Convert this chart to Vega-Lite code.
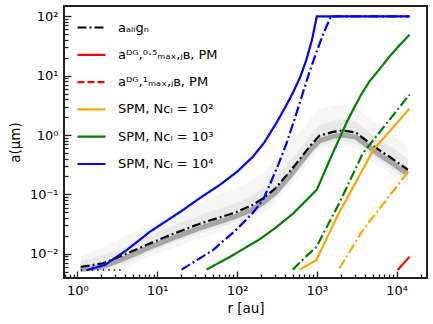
{
  "$schema": "https://vega.github.io/schema/vega-lite/v6.json",
  "width": 363,
  "height": 272,
  "autosize": "none",
  "padding": {"left": 64, "top": 6, "right": 6, "bottom": 46},
  "background": "white",
  "config": {
    "font": "DejaVu Sans",
    "view": {"stroke": "#222222", "strokeWidth": 2},
    "legend": {
      "orient": "none",
      "legendX": 12,
      "legendY": 6,
      "symbolType": "stroke",
      "symbolSize": 784,
      "symbolStrokeWidth": 2.2,
      "labelFont": "DejaVu Sans",
      "labelFontSize": 13,
      "labelColor": "#000000",
      "labelOffset": 11,
      "labelLimit": 300,
      "rowPadding": 4.3,
      "padding": 0,
      "title": null
    }
  },
  "datasets": {
    "curves": [
      {"series": "a_align", "r": 1.1, "a": 0.006},
      {"series": "a_align", "r": 2.1, "a": 0.0069},
      {"series": "a_align", "r": 4, "a": 0.0098},
      {"series": "a_align", "r": 8, "a": 0.0148},
      {"series": "a_align", "r": 15, "a": 0.021},
      {"series": "a_align", "r": 34, "a": 0.032},
      {"series": "a_align", "r": 89, "a": 0.048},
      {"series": "a_align", "r": 150, "a": 0.064},
      {"series": "a_align", "r": 211, "a": 0.085},
      {"series": "a_align", "r": 300, "a": 0.125},
      {"series": "a_align", "r": 456, "a": 0.24},
      {"series": "a_align", "r": 600, "a": 0.38},
      {"series": "a_align", "r": 812, "a": 0.64},
      {"series": "a_align", "r": 1075, "a": 0.97},
      {"series": "a_align", "r": 1600, "a": 1.13},
      {"series": "a_align", "r": 2113, "a": 1.19},
      {"series": "a_align", "r": 3100, "a": 1.1},
      {"series": "a_align", "r": 4560, "a": 0.73},
      {"series": "a_align", "r": 6000, "a": 0.56},
      {"series": "a_align", "r": 8140, "a": 0.43},
      {"series": "a_align", "r": 13800, "a": 0.26},
      {"series": "a_DG05", "r": 10300, "a": 0.0053},
      {"series": "a_DG05", "r": 14500, "a": 0.0089},
      {"series": "SPM_1e2", "r": 605, "a": 0.0054},
      {"series": "SPM_1e2", "r": 985, "a": 0.0078},
      {"series": "SPM_1e2", "r": 1400, "a": 0.021},
      {"series": "SPM_1e2", "r": 1910, "a": 0.05},
      {"series": "SPM_1e2", "r": 3000, "a": 0.15},
      {"series": "SPM_1e2", "r": 5100, "a": 0.56},
      {"series": "SPM_1e2", "r": 8000, "a": 1.12},
      {"series": "SPM_1e2", "r": 14500, "a": 2.8},
      {"series": "SPM_1e3", "r": 41.4, "a": 0.0054},
      {"series": "SPM_1e3", "r": 81, "a": 0.0088},
      {"series": "SPM_1e3", "r": 192, "a": 0.0175},
      {"series": "SPM_1e3", "r": 300, "a": 0.027},
      {"series": "SPM_1e3", "r": 500, "a": 0.047},
      {"series": "SPM_1e3", "r": 700, "a": 0.074},
      {"series": "SPM_1e3", "r": 1000, "a": 0.12},
      {"series": "SPM_1e3", "r": 1200, "a": 0.21},
      {"series": "SPM_1e3", "r": 1450, "a": 0.38},
      {"series": "SPM_1e3", "r": 1900, "a": 0.85},
      {"series": "SPM_1e3", "r": 2400, "a": 1.7},
      {"series": "SPM_1e3", "r": 2900, "a": 2.8},
      {"series": "SPM_1e3", "r": 3600, "a": 4.8},
      {"series": "SPM_1e3", "r": 4560, "a": 8.0},
      {"series": "SPM_1e3", "r": 6000, "a": 12.5},
      {"series": "SPM_1e3", "r": 8140, "a": 21},
      {"series": "SPM_1e3", "r": 11000, "a": 33},
      {"series": "SPM_1e3", "r": 14500, "a": 49},
      {"series": "SPM_1e4", "r": 1.33, "a": 0.0053},
      {"series": "SPM_1e4", "r": 2.22, "a": 0.0065},
      {"series": "SPM_1e4", "r": 4.14, "a": 0.0115},
      {"series": "SPM_1e4", "r": 8.1, "a": 0.0234},
      {"series": "SPM_1e4", "r": 20, "a": 0.052},
      {"series": "SPM_1e4", "r": 34, "a": 0.086},
      {"series": "SPM_1e4", "r": 60.8, "a": 0.144},
      {"series": "SPM_1e4", "r": 100, "a": 0.24},
      {"series": "SPM_1e4", "r": 158, "a": 0.43},
      {"series": "SPM_1e4", "r": 220, "a": 0.75},
      {"series": "SPM_1e4", "r": 310, "a": 1.58},
      {"series": "SPM_1e4", "r": 400, "a": 2.9},
      {"series": "SPM_1e4", "r": 500, "a": 5.1},
      {"series": "SPM_1e4", "r": 620, "a": 9.5},
      {"series": "SPM_1e4", "r": 740, "a": 18.5},
      {"series": "SPM_1e4", "r": 870, "a": 40},
      {"series": "SPM_1e4", "r": 1000, "a": 100},
      {"series": "SPM_1e4", "r": 14500, "a": 100},
      {"series": "SPM_1e4_dd", "r": 20.2, "a": 0.0054},
      {"series": "SPM_1e4_dd", "r": 50, "a": 0.0115},
      {"series": "SPM_1e4_dd", "r": 100, "a": 0.026},
      {"series": "SPM_1e4_dd", "r": 160, "a": 0.05},
      {"series": "SPM_1e4_dd", "r": 211, "a": 0.08},
      {"series": "SPM_1e4_dd", "r": 260, "a": 0.15},
      {"series": "SPM_1e4_dd", "r": 330, "a": 0.32},
      {"series": "SPM_1e4_dd", "r": 414, "a": 0.7},
      {"series": "SPM_1e4_dd", "r": 530, "a": 1.9},
      {"series": "SPM_1e4_dd", "r": 668, "a": 5.1},
      {"series": "SPM_1e4_dd", "r": 800, "a": 11},
      {"series": "SPM_1e4_dd", "r": 980, "a": 24},
      {"series": "SPM_1e4_dd", "r": 1200, "a": 50},
      {"series": "SPM_1e4_dd", "r": 1380, "a": 77},
      {"series": "SPM_1e4_dd", "r": 1500, "a": 100},
      {"series": "SPM_1e4_dd", "r": 14500, "a": 100},
      {"series": "SPM_1e3_dd", "r": 500, "a": 0.0054},
      {"series": "SPM_1e3_dd", "r": 700, "a": 0.0085},
      {"series": "SPM_1e3_dd", "r": 985, "a": 0.013},
      {"series": "SPM_1e3_dd", "r": 1400, "a": 0.032},
      {"series": "SPM_1e3_dd", "r": 1900, "a": 0.07},
      {"series": "SPM_1e3_dd", "r": 2700, "a": 0.19},
      {"series": "SPM_1e3_dd", "r": 3760, "a": 0.49},
      {"series": "SPM_1e3_dd", "r": 5500, "a": 0.93},
      {"series": "SPM_1e3_dd", "r": 7500, "a": 1.57},
      {"series": "SPM_1e3_dd", "r": 10000, "a": 2.56},
      {"series": "SPM_1e3_dd", "r": 14500, "a": 4.8},
      {"series": "SPM_1e2_dd", "r": 1920, "a": 0.0057},
      {"series": "SPM_1e2_dd", "r": 2600, "a": 0.011},
      {"series": "SPM_1e2_dd", "r": 3760, "a": 0.025},
      {"series": "SPM_1e2_dd", "r": 5200, "a": 0.0436},
      {"series": "SPM_1e2_dd", "r": 7400, "a": 0.08},
      {"series": "SPM_1e2_dd", "r": 10000, "a": 0.135},
      {"series": "SPM_1e2_dd", "r": 14500, "a": 0.26},
      {"series": "floor_dotted", "r": 1.1, "a": 0.0053},
      {"series": "floor_dotted", "r": 3.6, "a": 0.0053}
    ],
    "cloud": [
      {"r": 1.1, "mid": 0.0054, "lo2": 0.005, "hi2": 0.0075, "lo": 0.0048, "hi": 0.009},
      {"r": 2.1, "mid": 0.0061, "lo2": 0.0053, "hi2": 0.0095, "lo": 0.005, "hi": 0.013},
      {"r": 4, "mid": 0.0085, "lo2": 0.0068, "hi2": 0.013, "lo": 0.006, "hi": 0.02},
      {"r": 8, "mid": 0.0128, "lo2": 0.0105, "hi2": 0.02, "lo": 0.009, "hi": 0.032},
      {"r": 15, "mid": 0.018, "lo2": 0.015, "hi2": 0.029, "lo": 0.012, "hi": 0.048},
      {"r": 34, "mid": 0.027, "lo2": 0.022, "hi2": 0.045, "lo": 0.018, "hi": 0.075},
      {"r": 89, "mid": 0.041, "lo2": 0.033, "hi2": 0.068, "lo": 0.027, "hi": 0.12},
      {"r": 150, "mid": 0.054, "lo2": 0.043, "hi2": 0.092, "lo": 0.036, "hi": 0.17},
      {"r": 211, "mid": 0.072, "lo2": 0.057, "hi2": 0.125, "lo": 0.048, "hi": 0.24},
      {"r": 300, "mid": 0.106, "lo2": 0.085, "hi2": 0.19, "lo": 0.07, "hi": 0.36},
      {"r": 456, "mid": 0.2, "lo2": 0.16, "hi2": 0.36, "lo": 0.13, "hi": 0.7},
      {"r": 600, "mid": 0.32, "lo2": 0.26, "hi2": 0.57, "lo": 0.21, "hi": 1.1},
      {"r": 812, "mid": 0.54, "lo2": 0.43, "hi2": 0.95, "lo": 0.35, "hi": 1.9},
      {"r": 1075, "mid": 0.8, "lo2": 0.64, "hi2": 1.45, "lo": 0.52, "hi": 2.7},
      {"r": 1600, "mid": 0.95, "lo2": 0.75, "hi2": 1.75, "lo": 0.62, "hi": 3.2},
      {"r": 2113, "mid": 1.0, "lo2": 0.78, "hi2": 1.85, "lo": 0.64, "hi": 3.3},
      {"r": 3100, "mid": 0.92, "lo2": 0.72, "hi2": 1.7, "lo": 0.59, "hi": 3.0},
      {"r": 4560, "mid": 0.62, "lo2": 0.49, "hi2": 1.1, "lo": 0.4, "hi": 1.9},
      {"r": 6000, "mid": 0.47, "lo2": 0.37, "hi2": 0.86, "lo": 0.3, "hi": 1.45},
      {"r": 8140, "mid": 0.36, "lo2": 0.28, "hi2": 0.65, "lo": 0.23, "hi": 1.05},
      {"r": 13800, "mid": 0.22, "lo2": 0.17, "hi2": 0.4, "lo": 0.14, "hi": 0.65}
    ]
  },
  "encoding": {
    "x": {
      "field": "r",
      "type": "quantitative",
      "scale": {"type": "log", "domain": [0.68, 24000], "nice": false},
      "axis": {
        "values": [0.7, 0.8, 0.9, 1, 2, 3, 4, 5, 6, 7, 8, 9, 10, 20, 30, 40, 50, 60, 70, 80, 90, 100, 200, 300, 400, 500, 600, 700, 800, 900, 1000, 2000, 3000, 4000, 5000, 6000, 7000, 8000, 9000, 10000, 20000],
        "labelExpr": "datum.value == 1 ? '10⁰' : datum.value == 10 ? '10¹' : datum.value == 100 ? '10²' : datum.value == 1000 ? '10³' : datum.value == 10000 ? '10⁴' : ''",
        "tickSize": {"condition": {"test": "indexof([1, 10, 100, 1000, 10000], datum.value) >= 0", "value": -7}, "value": -4},
        "tickColor": "#222222",
        "tickWidth": 1.3,
        "domain": false,
        "grid": false,
        "labelOverlap": false,
        "labelFlush": false,
        "labelPadding": 13,
        "labelFont": "DejaVu Sans",
        "labelFontSize": 13,
        "labelColor": "#000000",
        "title": "r [au]",
        "titleFont": "DejaVu Sans",
        "titleFontSize": 13.5,
        "titleFontWeight": "normal",
        "titleColor": "#000000",
        "titleX": 181.5,
        "titleY": 30,
        "titleBaseline": "middle"
      }
    }
  },
  "layer": [
    {
      "data": {"name": "cloud"},
      "mark": {"type": "area", "color": "#000000", "opacity": 0.035, "clip": true},
      "encoding": {
        "y": {
          "field": "lo",
          "type": "quantitative",
          "scale": {"type": "log", "domain": [0.0039, 149], "nice": false},
          "axis": {
            "values": [0.004, 0.005, 0.006, 0.007, 0.008, 0.009, 0.01, 0.02, 0.03, 0.04, 0.05, 0.06, 0.07, 0.08, 0.09, 0.1, 0.2, 0.3, 0.4, 0.5, 0.6, 0.7, 0.8, 0.9, 1, 2, 3, 4, 5, 6, 7, 8, 9, 10, 20, 30, 40, 50, 60, 70, 80, 90, 100],
            "labelExpr": "datum.value == 0.01 ? '10⁻²' : datum.value == 0.1 ? '10⁻¹' : datum.value == 1 ? '10⁰' : datum.value == 10 ? '10¹' : datum.value == 100 ? '10²' : ''",
            "tickSize": {"condition": {"test": "indexof([0.01, 0.1, 1, 10, 100], datum.value) >= 0", "value": -7}, "value": -4},
            "tickColor": "#222222",
            "tickWidth": 1.3,
            "domain": false,
            "grid": false,
            "labelOverlap": false,
            "labelFlush": false,
            "labelPadding": 13,
            "labelFont": "DejaVu Sans",
            "labelFontSize": 13,
            "labelColor": "#000000",
            "title": "a(μm)",
            "titleFont": "DejaVu Sans",
            "titleFontSize": 13.5,
            "titleFontWeight": "normal",
            "titleColor": "#000000",
            "titleX": -49,
            "titleY": 136,
            "titleBaseline": "middle"
          }
        },
        "y2": {"field": "hi"}
      }
    },
    {
      "data": {"name": "cloud"},
      "mark": {"type": "area", "color": "#000000", "opacity": 0.05, "clip": true},
      "encoding": {
        "y": {"field": "lo2", "type": "quantitative"},
        "y2": {"field": "hi2"}
      }
    },
    {
      "data": {"name": "cloud"},
      "mark": {"type": "line", "color": "#555555", "opacity": 0.45, "strokeWidth": 5, "clip": true},
      "encoding": {
        "y": {"field": "mid", "type": "quantitative"}
      }
    },
    {
      "data": {"name": "curves"},
      "transform": [{"filter": "indexof(['a_align','a_DG05','a_DG1','SPM_1e2','SPM_1e3','SPM_1e4'], datum.series) >= 0"}],
      "mark": {"type": "line", "strokeWidth": 2.2, "clip": true},
      "encoding": {
        "y": {"field": "a", "type": "quantitative"},
        "color": {
          "field": "series",
          "type": "nominal",
          "scale": {
            "domain": ["a_align", "a_DG05", "a_DG1", "SPM_1e2", "SPM_1e3", "SPM_1e4"],
            "range": ["#000000", "#ff0000", "#ff0000", "#ffa500", "#008000", "#0000ff"]
          },
          "legend": {
            "labelExpr": "datum.value == 'a_align' ? 'aₐₗᵢgₙ' : datum.value == 'a_DG05' ? 'aᴰᴳ,⁰·⁵ₘₐₓ,ⱼʙ, PM' : datum.value == 'a_DG1' ? 'aᴰᴳ,¹ₘₐₓ,ⱼʙ, PM' : datum.value == 'SPM_1e2' ? 'SPM, Nᴄₗ = 10²' : datum.value == 'SPM_1e3' ? 'SPM, Nᴄₗ = 10³' : 'SPM, Nᴄₗ = 10⁴'"
          }
        },
        "strokeDash": {
          "field": "series",
          "type": "nominal",
          "scale": {
            "domain": ["a_align", "a_DG05", "a_DG1", "SPM_1e2", "SPM_1e3", "SPM_1e4"],
            "range": [[9, 3, 2, 3], [1, 0], [7, 3], [1, 0], [1, 0], [1, 0]]
          },
          "legend": {
            "labelExpr": "datum.value == 'a_align' ? 'aₐₗᵢgₙ' : datum.value == 'a_DG05' ? 'aᴰᴳ,⁰·⁵ₘₐₓ,ⱼʙ, PM' : datum.value == 'a_DG1' ? 'aᴰᴳ,¹ₘₐₓ,ⱼʙ, PM' : datum.value == 'SPM_1e2' ? 'SPM, Nᴄₗ = 10²' : datum.value == 'SPM_1e3' ? 'SPM, Nᴄₗ = 10³' : 'SPM, Nᴄₗ = 10⁴'"
          }
        }
      }
    },
    {
      "data": {"name": "curves"},
      "transform": [{"filter": "datum.series == 'floor_dotted'"}],
      "mark": {"type": "line", "color": "#000000", "strokeWidth": 1.5, "strokeDash": [1.5, 4], "clip": true},
      "encoding": {"y": {"field": "a", "type": "quantitative"}}
    },
    {
      "data": {"name": "curves"},
      "transform": [{"filter": "datum.series == 'SPM_1e2_dd'"}],
      "mark": {"type": "line", "color": "#ffa500", "strokeWidth": 2.2, "strokeDash": [10, 3, 2, 3], "clip": true},
      "encoding": {"y": {"field": "a", "type": "quantitative"}}
    },
    {
      "data": {"name": "curves"},
      "transform": [{"filter": "datum.series == 'SPM_1e3_dd'"}],
      "mark": {"type": "line", "color": "#008000", "strokeWidth": 2.2, "strokeDash": [10, 3, 2, 3], "clip": true},
      "encoding": {"y": {"field": "a", "type": "quantitative"}}
    },
    {
      "data": {"name": "curves"},
      "transform": [{"filter": "datum.series == 'SPM_1e4_dd'"}],
      "mark": {"type": "line", "color": "#0000ff", "strokeWidth": 2.2, "strokeDash": [10, 3, 2, 3], "clip": true},
      "encoding": {"y": {"field": "a", "type": "quantitative"}}
    }
  ]
}
